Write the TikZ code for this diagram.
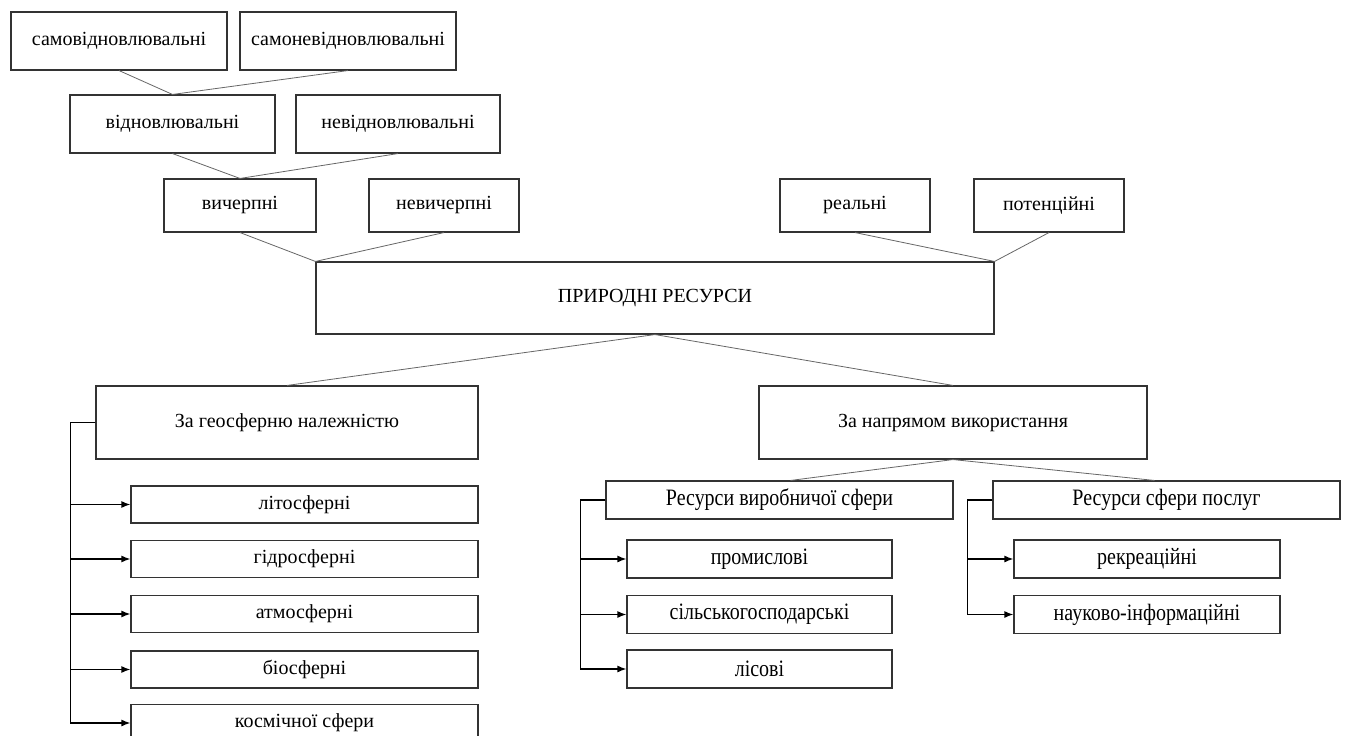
\documentclass[tikz,border=0pt]{standalone}
\usepackage{fontspec}
\setmainfont{Liberation Serif}
\newfontfamily\narrowfont{Liberation Serif}[FakeStretch=0.85]
\usetikzlibrary{arrows.meta}

\tikzset{
  box/.style={draw=black!80, line width=1.1pt, inner sep=0pt, align=center,
    font=\fontsize{20}{24}\selectfont},
  narrowbox/.style={box, font=\narrowfont\fontsize{23.5}{26}\selectfont},
  link/.style={draw=black!60, line width=0.8pt},
  branch/.style={draw=black, line width=1.5pt, -{Latex[length=9pt,width=7pt]}}
}

\begin{document}
\begin{tikzpicture}[x=1pt,y=-1pt]
  \useasboundingbox (0,0) rectangle (1347,736);

  % Top levels
  \node[box, minimum width=216pt, minimum height=58pt] (samovid)   at (119,41)    {самовідновлювальні};
  \node[box, minimum width=216pt, minimum height=58pt] (samonevid) at (348,41)    {самоневідновлювальні};
  \node[box, minimum width=205pt, minimum height=58pt] (vidn)      at (172.5,124) {відновлювальні};
  \node[box, minimum width=204pt, minimum height=58pt] (nevidn)    at (398,124)   {невідновлювальні};
  \node[box, minimum width=152pt, minimum height=53pt] (vych)      at (240,205.5) {вичерпні};
  \node[box, minimum width=150pt, minimum height=53pt] (nevych)    at (444,205.5) {невичерпні};
  \node[box, minimum width=150pt, minimum height=53pt] (realni)    at (855,205.5) {реальні};
  \node[box, minimum width=150pt, minimum height=53pt] (potenc)    at (1049,205.5) {потенційні};

  % Main box
  \node[box, minimum width=678pt, minimum height=72pt] (pryr) at (655,298) {ПРИРОДНІ РЕСУРСИ};

  % Links to the upper boxes
  \draw[link] (samovid.south) -- (vidn.north) -- (samonevid.south);
  \draw[link] (vidn.south) -- (vych.north) -- (nevidn.south);
  \draw[link] (vych.south) -- (pryr.north west) -- (nevych.south);
  \draw[link] (realni.south) -- (pryr.north east) -- (potenc.south);

  % Second level
  \node[box, minimum width=382pt, minimum height=73pt] (geo)  at (287,422.5) {За геосферню належністю};
  \node[box, minimum width=388pt, minimum height=73pt] (napr) at (953,422.5) {За напрямом використання};
  \draw[link] (geo.north) -- (pryr.south) -- (napr.north);

  \node[narrowbox, minimum width=347pt, minimum height=38pt] (vyrob) at (779.5,500)  {Ресурси виробничої сфери};
  \node[narrowbox, minimum width=347pt, minimum height=38pt] (posl)  at (1166.5,500) {Ресурси сфери послуг};
  \draw[link] ([xshift=11pt]vyrob.north) -- (napr.south) -- ([xshift=-12pt]posl.north);

  % Geospheres
  \foreach \name/\yy/\txt in {lito/504.5/літосферні, hidro/559/гідросферні,
      atmo/614/атмосферні, bio/669.5/біосферні, kosm/723/космічної сфери} {
    \node[box, minimum width=347pt, minimum height=37pt] (\name) at (304.5,\yy) {\txt};
    \draw[branch] (geo.west) -- ++(-25,0) |- (\name.west);
  }

  % Production sphere
  \foreach \name/\yy/\txt in {prom/559/промислові, silsk/614.5/сільськогосподарські,
      lis/669/лісові} {
    \node[narrowbox, minimum width=265pt, minimum height=38pt] (\name) at (759.5,\yy) {\txt};
    \draw[branch] (vyrob.west) -- ++(-25,0) |- (\name.west);
  }

  % Service sphere
  \foreach \name/\yy/\txt in {rekr/559/рекреаційні, nauk/614.5/науково-інформаційні} {
    \node[narrowbox, minimum width=266pt, minimum height=38pt] (\name) at (1147,\yy) {\txt};
    \draw[branch] (posl.west) -- ++(-25,0) |- (\name.west);
  }
\end{tikzpicture}
\end{document}
